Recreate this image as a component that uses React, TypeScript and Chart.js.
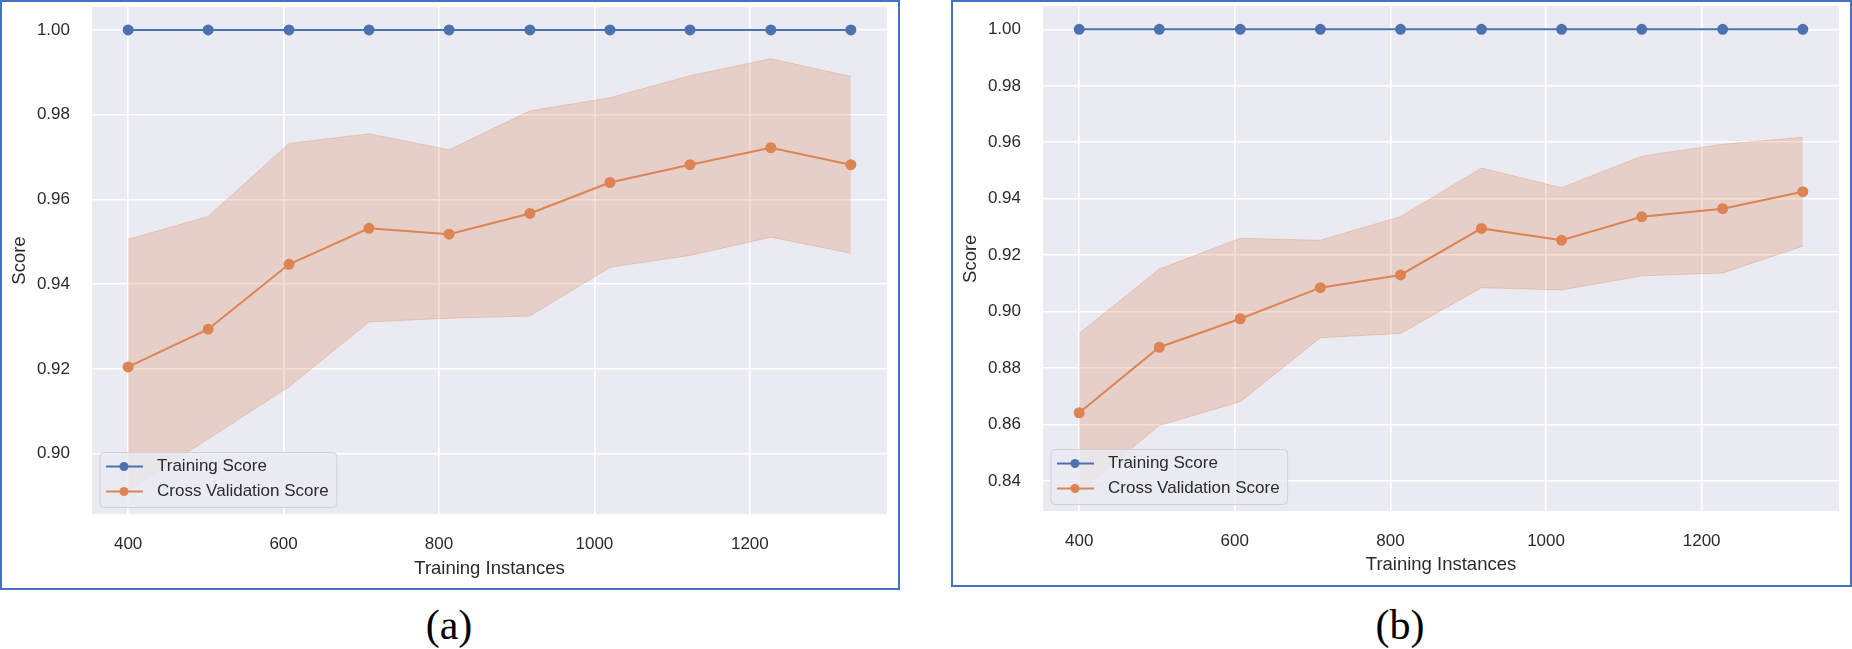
import React, { useEffect, useRef } from "react";
import { Chart, registerables } from "chart.js";

Chart.register(...registerables);

// ---------- data ----------
const TRAIN_SIZES = [400, 503, 607, 710, 813, 917, 1020, 1123, 1227, 1330];
const X_TICKS = [400, 600, 800, 1000, 1200];
const X_RANGE = [353.5, 1376.5];

const A_TRAIN_SCORE = [1.0, 1.0, 1.0, 1.0, 1.0, 1.0, 1.0, 1.0, 1.0, 1.0];
const A_CV_MEAN = [0.9205, 0.9294, 0.9447, 0.9532, 0.9518, 0.9567, 0.964, 0.9682, 0.9722, 0.9682];
const A_CV_UPPER = [0.9506, 0.956, 0.9732, 0.9755, 0.9717, 0.9809, 0.984, 0.9892, 0.9932, 0.989];
const A_CV_LOWER = [0.8913, 0.9035, 0.9158, 0.9311, 0.932, 0.9325, 0.944, 0.9468, 0.9511, 0.9473];
const A_Y_TICKS = [0.9, 0.92, 0.94, 0.96, 0.98, 1.0];
const A_Y_RANGE = [0.8858, 1.0054];

const B_TRAIN_SCORE = [1.0, 1.0, 1.0, 1.0, 1.0, 1.0, 1.0, 1.0, 1.0, 1.0];
const B_CV_MEAN = [0.8642, 0.8874, 0.8975, 0.9085, 0.913, 0.9295, 0.9253, 0.9336, 0.9365, 0.9425];
const B_CV_UPPER = [0.8923, 0.9151, 0.926, 0.9253, 0.9337, 0.9509, 0.9439, 0.9551, 0.9593, 0.9618];
const B_CV_LOWER = [0.8361, 0.8597, 0.8681, 0.8908, 0.8923, 0.9085, 0.9077, 0.9127, 0.9137, 0.9232];
const B_Y_TICKS = [0.84, 0.86, 0.88, 0.9, 0.92, 0.94, 0.96, 0.98, 1.0];
const B_Y_RANGE = [0.8294, 1.0081];

const SERIES_LABELS = ["Training Score", "Cross Validation Score"];
const X_TITLE = "Training Instances";
const Y_TITLE = "Score";
const CAPTIONS = ["(a)", "(b)"];

// ---------- styles ----------
const BLUE = "#4C72B0";
const ORANGE = "#DD8452";
const BAND_FILL = "rgba(221,132,82,0.26)";
const BAND_EDGE = "rgba(221,132,82,0.3)";
const PLOT_BG = "#EAEAF2";
const TEXT = "#2b2b2b";
const FONT = "'Liberation Sans', Arial, sans-serif";

const plotBg = {
  id: "plotBg",
  beforeDraw(chart: any) {
    const { ctx, chartArea } = chart;
    ctx.save();
    ctx.fillStyle = PLOT_BG;
    ctx.fillRect(chartArea.left, chartArea.top, chartArea.right - chartArea.left, chartArea.bottom - chartArea.top);
    ctx.restore();
  },
};

const insetLegend = {
  id: "insetLegend",
  afterDatasetsDraw(chart: any) {
    const { ctx, chartArea } = chart;
    const items = chart.data.datasets.filter((d: any) => d.label);
    ctx.save();
    ctx.font = `17px ${FONT}`;
    let maxW = 0;
    items.forEach((d: any) => {
      maxW = Math.max(maxW, ctx.measureText(d.label).width);
    });
    const boxW = 57 + maxW + 8;
    const boxH = 55;
    const x0 = chartArea.left + 8;
    const y0 = chartArea.bottom - 6.5 - boxH;
    const r = 4;
    ctx.beginPath();
    ctx.moveTo(x0 + r, y0);
    ctx.lineTo(x0 + boxW - r, y0);
    ctx.quadraticCurveTo(x0 + boxW, y0, x0 + boxW, y0 + r);
    ctx.lineTo(x0 + boxW, y0 + boxH - r);
    ctx.quadraticCurveTo(x0 + boxW, y0 + boxH, x0 + boxW - r, y0 + boxH);
    ctx.lineTo(x0 + r, y0 + boxH);
    ctx.quadraticCurveTo(x0, y0 + boxH, x0, y0 + boxH - r);
    ctx.lineTo(x0, y0 + r);
    ctx.quadraticCurveTo(x0, y0, x0 + r, y0);
    ctx.closePath();
    ctx.fillStyle = "rgba(234,234,242,0.8)";
    ctx.fill();
    ctx.strokeStyle = "rgba(204,204,204,0.8)";
    ctx.lineWidth = 1;
    ctx.stroke();
    items.forEach((d: any, i: number) => {
      const cy = y0 + 14 + i * 25;
      ctx.beginPath();
      ctx.strokeStyle = d.borderColor;
      ctx.lineWidth = 2;
      ctx.moveTo(x0 + 6, cy);
      ctx.lineTo(x0 + 43, cy);
      ctx.stroke();
      ctx.beginPath();
      ctx.fillStyle = d.pointBackgroundColor;
      ctx.arc(x0 + 24, cy, 4.5, 0, Math.PI * 2);
      ctx.fill();
      ctx.fillStyle = TEXT;
      ctx.textBaseline = "middle";
      ctx.textAlign = "left";
      ctx.fillText(d.label, x0 + 57, cy);
    });
    ctx.restore();
  },
};

type PanelProps = {
  train: number[];
  mean: number[];
  upper: number[];
  lower: number[];
  yTicks: number[];
  yRange: number[];
  width: number;
  height: number;
  padTop: number;
  padRight: number;
  xAxisHeight: number;
  xTitlePad: number;
};

function Panel(p: PanelProps) {
  const ref = useRef<HTMLCanvasElement | null>(null);
  useEffect(() => {
    if (!ref.current) return;
    const pts = (ys: number[]) => TRAIN_SIZES.map((x, i) => ({ x, y: ys[i] }));
    const chart = new Chart(ref.current, {
      type: "line",
      data: {
        datasets: [
          {
            label: SERIES_LABELS[0],
            data: pts(p.train),
            borderColor: BLUE,
            backgroundColor: BLUE,
            pointBackgroundColor: BLUE,
            pointBorderColor: BLUE,
            pointRadius: 4.5,
            borderWidth: 2,
            fill: false,
            order: 1,
          },
          {
            label: SERIES_LABELS[1],
            data: pts(p.mean),
            borderColor: ORANGE,
            backgroundColor: ORANGE,
            pointBackgroundColor: ORANGE,
            pointBorderColor: ORANGE,
            pointRadius: 4.5,
            borderWidth: 2,
            fill: false,
            order: 0,
          },
          {
            label: "",
            data: pts(p.upper),
            borderColor: BAND_EDGE,
            backgroundColor: BAND_FILL,
            borderWidth: 1,
            pointRadius: 0,
            fill: "+1",
            order: 2,
          },
          {
            label: "",
            data: pts(p.lower),
            borderColor: BAND_EDGE,
            backgroundColor: BAND_FILL,
            borderWidth: 1,
            pointRadius: 0,
            fill: false,
            order: 2,
          },
        ],
      },
      options: {
        animation: false,
        responsive: false,
        maintainAspectRatio: false,
        devicePixelRatio: 1,
        layout: { padding: { left: 0, top: p.padTop, right: p.padRight, bottom: 0 } },
        plugins: { legend: { display: false }, tooltip: { enabled: false } },
        scales: {
          x: {
            type: "linear",
            min: X_RANGE[0],
            max: X_RANGE[1],
            afterBuildTicks: (s: any) => {
              s.ticks = X_TICKS.map((v) => ({ value: v }));
            },
            afterFit: (s: any) => {
              s.height = p.xAxisHeight;
              s.paddingLeft = 0;
              s.paddingRight = 0;
            },
            grid: { color: "#ffffff", lineWidth: 1.6, drawTicks: false },
            border: { display: false },
            ticks: {
              autoSkip: false,
              maxRotation: 0,
              padding: 20,
              color: TEXT,
              font: { family: FONT, size: 17 },
              callback: (v: any) => String(v),
            },
            title: {
              display: true,
              text: X_TITLE,
              color: TEXT,
              font: { family: FONT, size: 18.5 },
              padding: { top: 0, bottom: p.xTitlePad },
            },
          },
          y: {
            type: "linear",
            min: p.yRange[0],
            max: p.yRange[1],
            afterBuildTicks: (s: any) => {
              s.ticks = p.yTicks.map((v) => ({ value: v }));
            },
            afterFit: (s: any) => {
              s.width = 92;
              s.paddingTop = 0;
              s.paddingBottom = 0;
            },
            grid: { color: "#ffffff", lineWidth: 1.6, drawTicks: false },
            border: { display: false },
            ticks: {
              autoSkip: false,
              padding: 22,
              color: TEXT,
              font: { family: FONT, size: 17 },
              callback: (v: any) => Number(v).toFixed(2),
            },
            title: {
              display: true,
              text: Y_TITLE,
              color: TEXT,
              font: { family: FONT, size: 18.5 },
              padding: { top: 8.4, bottom: 0 },
            },
          },
        },
      },
      plugins: [plotBg, insetLegend],
    } as any);
    return () => chart.destroy();
  }, []);
  return <canvas ref={ref} width={p.width} height={p.height} style={{ display: "block", width: p.width, height: p.height }} />;
}

export default function App() {
  return (
    <div style={{ position: "fixed", left: 0, top: 0, width: 1852, height: 649, background: "#fff", overflow: "hidden" }}>
      <div style={{ position: "absolute", left: 0, top: 0 }}>
        <Panel
          train={A_TRAIN_SCORE}
          mean={A_CV_MEAN}
          upper={A_CV_UPPER}
          lower={A_CV_LOWER}
          yTicks={A_Y_TICKS}
          yRange={A_Y_RANGE}
          width={900}
          height={590}
          padTop={7}
          padRight={13}
          xAxisHeight={76}
          xTitlePad={10.4}
        />
      </div>
      <div style={{ position: "absolute", left: 0, top: 0, width: 900, height: 590, boxSizing: "border-box", border: "2px solid #4472C4" }} />
      <div style={{ position: "absolute", left: 951, top: 0 }}>
        <Panel
          train={B_TRAIN_SCORE}
          mean={B_CV_MEAN}
          upper={B_CV_UPPER}
          lower={B_CV_LOWER}
          yTicks={B_Y_TICKS}
          yRange={B_Y_RANGE}
          width={901}
          height={588}
          padTop={3}
          padRight={13}
          xAxisHeight={77}
          xTitlePad={12}
        />
      </div>
      <div style={{ position: "absolute", left: 951, top: 0, width: 901, height: 587, boxSizing: "border-box", border: "2px solid #4472C4" }} />
      <div style={{ position: "absolute", left: 349, top: 604, width: 200, textAlign: "center", fontFamily: "'Liberation Serif', 'Times New Roman', serif", fontSize: 42, lineHeight: 1, color: "#000" }}>
        {CAPTIONS[0]}
      </div>
      <div style={{ position: "absolute", left: 1300, top: 604, width: 200, textAlign: "center", fontFamily: "'Liberation Serif', 'Times New Roman', serif", fontSize: 42, lineHeight: 1, color: "#000" }}>
        {CAPTIONS[1]}
      </div>
    </div>
  );
}
